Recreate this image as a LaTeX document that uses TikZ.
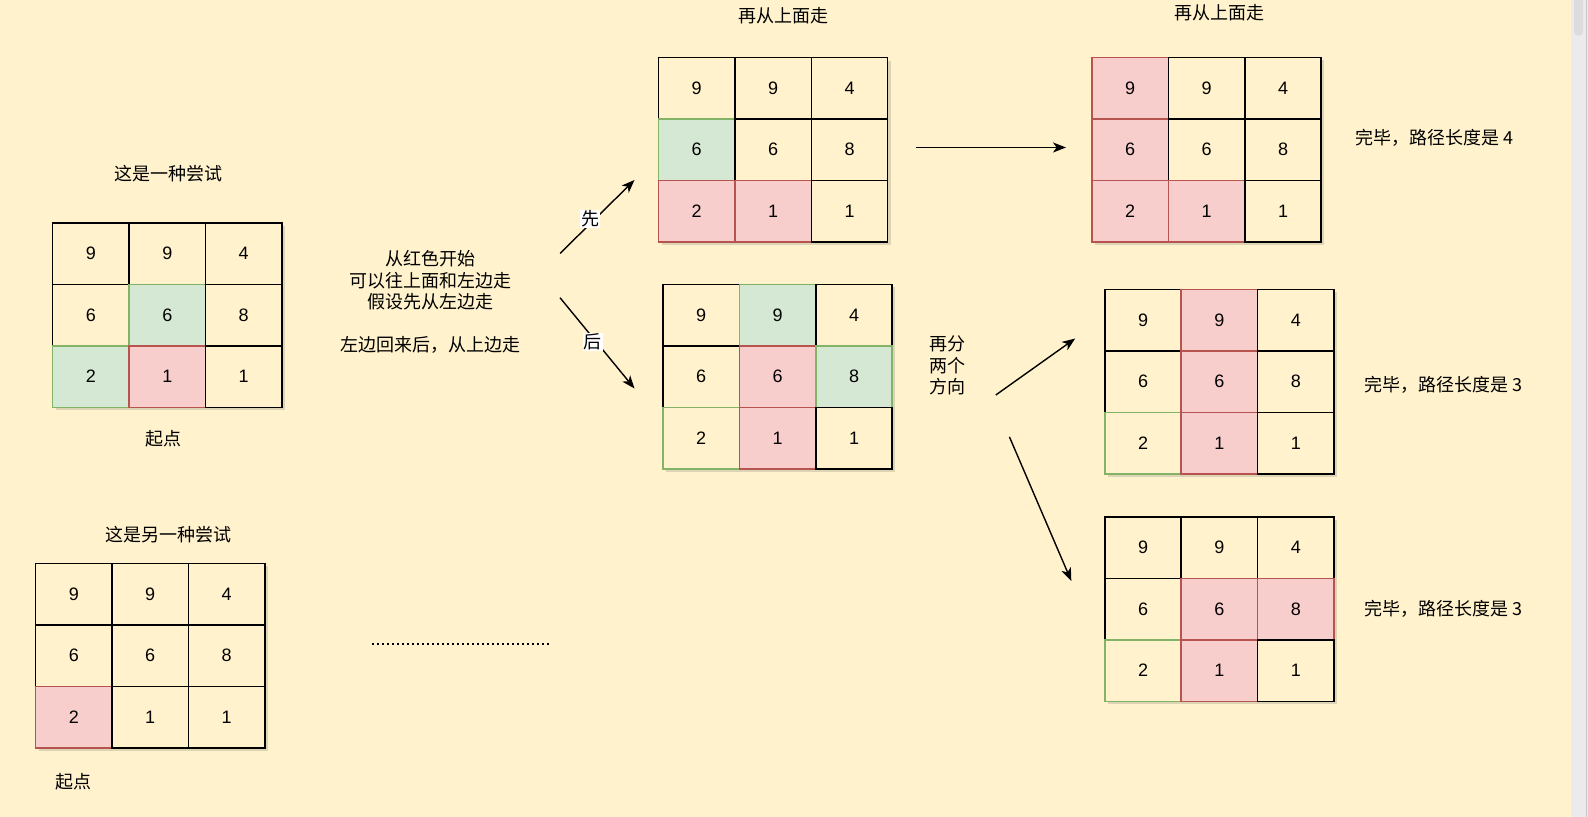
\documentclass[tikz,border=0pt]{standalone}
\usepackage{fontspec}
\setmainfont{Liberation Sans}
\newfontfamily\cjk{Noto Sans CJK SC}
\usetikzlibrary{arrows.meta,shadows}

\definecolor{paper}{HTML}{FFF2CC}
\definecolor{hitfill}{HTML}{F8CECC}
\definecolor{hitline}{HTML}{B85450}
\definecolor{candfill}{HTML}{D5E8D4}
\definecolor{candline}{HTML}{82B366}
\definecolor{barbg}{HTML}{EBEBEB}
\definecolor{barthumb}{HTML}{DCDCDC}

\tikzset{
  idle/.style={draw=black, fill=paper},
  hit/.style={draw=hitline, fill=hitfill},
  cand/.style={draw=candline, fill=candfill},
  ring/.style={draw=candline, fill=paper},
  cell/.style={minimum width=38.2pt, minimum height=30.75pt, inner sep=0pt, line width=0.75pt,
    drop shadow={shadow xshift=1.5pt, shadow yshift=-1.5pt, opacity=0.22, fill=black!60}},
  note/.style={font=\cjk\fontsize{9}{10.75}\selectfont, align=center},
  tag/.style={note, fill=white, inner sep=0.4pt},
  walk/.style={line width=0.7pt, -{Stealth[length=6.5pt,width=5pt,inset=1.8pt]}},
  dots/.style={line width=1pt, dash pattern=on 1pt off 1.5pt},
}

% #1 name, #2 #3 centre of the top left cell, #4 value/style list
\newcommand\numgrid[4]{%
  \foreach \val/\sty [count=\k from 0] in {#4} {
    \pgfmathtruncatemacro\gr{int(\k/3)}
    \pgfmathtruncatemacro\gc{mod(\k,3)}
    \node[cell,\sty] (#1-\gr-\gc) at ({#2+76.4*\gc},{#3+61.5*\gr}) {\val};
  }%
}

\begin{document}
\begin{tikzpicture}[x=0.5pt, y=-0.5pt, every node/.style={font=\fontsize{9}{10.75}\selectfont}]
  \useasboundingbox (0,0) rectangle (1588,817);
  \fill[paper] (0,0) rectangle (1571,817);
  \fill[barbg] (1571,0) rectangle (1588,817);
  \fill[barthumb, rounded corners=2pt] (1574,-4) rectangle (1583,35.5);
  \draw[gray!45] (1586,0) -- (1586,817);

  % first try
  \node[note] (try1) at (168,174) {这是一种尝试};
  \numgrid{g1}{90.9}{253.6}{9/idle,9/idle,4/idle,6/idle,6/cand,8/idle,2/cand,1/hit,1/idle}
  \node[note] (start1) at (163,439) {起点};

  \node[note] (idea) at (430.5,302.3) {从红色开始\\可以往上面和左边走\\假设先从左边走\\[10.75pt]左边回来后，从上边走};

  % left first, then up
  \node[note] (up1) at (783,16) {再从上面走};
  \numgrid{g2}{696.7}{88.3}{9/idle,9/idle,4/idle,6/cand,6/idle,8/idle,2/hit,1/hit,1/idle}
  \numgrid{g3}{701.2}{315.1}{9/idle,9/cand,4/idle,6/idle,6/hit,8/cand,2/ring,1/hit,1/idle}

  \coordinate (a1) at (560,253.5);
  \coordinate (b1) at (634.5,180);
  \coordinate (a2) at (560,297.7);
  \coordinate (b2) at (634.5,388.5);
  \draw[walk] (a1) -- (b1) node[tag, pos=0.47, xshift=-2.5pt] {先};
  \draw[walk] (a2) -- (b2) node[tag, pos=0.49, xshift=-1.8pt] {后};

  % done in one step
  \node[note] (up2) at (1219,13) {再从上面走};
  \numgrid{g4}{1130.2}{88.1}{9/hit,9/idle,4/idle,6/hit,6/idle,8/idle,2/hit,1/hit,1/idle}
  \node[note] (done1) at (1434,137.5) {完毕，路径长度是 4};
  \coordinate (a3) at (915.5,147.5);
  \coordinate (b3) at (1066,147.5);
  \draw[walk] (a3) -- (b3);

  % two ways from the middle
  \node[note, align=left] (split) at (947,365.6) {再分\\两个\\方向};
  \coordinate (a4) at (995.8,395);
  \coordinate (b4) at (1075.2,338.5);
  \coordinate (a5) at (1009.4,436.8);
  \coordinate (b5) at (1071.3,581);
  \draw[walk] (a4) -- (b4);
  \draw[walk] (a5) -- (b5);
  \numgrid{g5}{1143}{320.1}{9/idle,9/hit,4/idle,6/idle,6/hit,8/idle,2/ring,1/hit,1/idle}
  \numgrid{g6}{1143}{547.5}{9/idle,9/idle,4/idle,6/idle,6/hit,8/hit,2/ring,1/hit,1/idle}
  \node[note] (done2) at (1443,385) {完毕，路径长度是 3};
  \node[note] (done3) at (1443,608.5) {完毕，路径长度是 3};

  % second try
  \node[note] (try2) at (168,535) {这是另一种尝试};
  \numgrid{g7}{73.8}{594.1}{9/idle,9/idle,4/idle,6/idle,6/idle,8/idle,2/hit,1/idle,1/idle}
  \node[note] (start2) at (73,782) {起点};
  \coordinate (d1) at (372,644);
  \coordinate (d2) at (551,644);
  \draw[dots] (d1) -- (d2);
\end{tikzpicture}
\end{document}
